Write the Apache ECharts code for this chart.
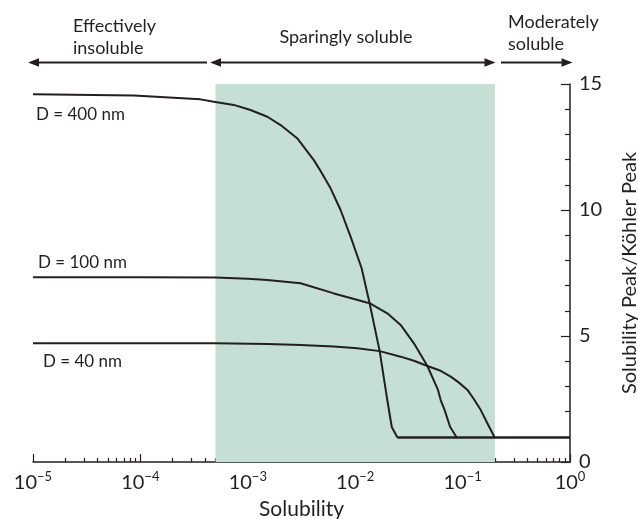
<!DOCTYPE html>
<html><head><meta charset="utf-8">
<script src="https://cdn.jsdelivr.net/npm/echarts@6/dist/echarts.min.js"></script>
<style>html,body{margin:0;padding:0;background:#fff}#c{width:638px;height:519px}</style>
</head><body><div id="c"></div>
<script>
// ---- data ----
const seriesNames = ['D = 400 nm', 'D = 100 nm', 'D = 40 nm'];
const solD400 = [1e-5, 8.66e-5, 3.62e-4, 4.82e-4, 7.41e-4, 1.06e-3, 1.52e-3, 2.02e-3, 2.88e-3, 4.12e-3, 4.76e-3, 5.9e-3, 7.31e-3, 9.06e-3, 0.01148, 0.0136, 0.0169, 0.0199, 0.0219, 0.0247];
const peakD400 = [14.59, 14.54, 14.39, 14.30, 14.17, 13.97, 13.70, 13.37, 12.85, 11.98, 11.55, 10.86, 10.0, 8.94, 7.69, 6.31, 4.40, 2.46, 1.39, 0.97];
const solD100 = [1e-5, 1e-4, 5e-4, 1e-3, 1.52e-3, 3.10e-3, 6.34e-3, 0.0136, 0.0199, 0.0265, 0.0352, 0.0470, 0.059, 0.0625, 0.0681, 0.0764, 0.0881];
const peakD100 = [7.33, 7.33, 7.32, 7.27, 7.22, 7.09, 6.69, 6.30, 5.90, 5.44, 4.71, 3.81, 2.86, 2.46, 2.06, 1.40, 0.97];
const solD40 = [1e-5, 1e-4, 5e-4, 1.52e-3, 3.10e-3, 6.34e-3, 0.01047, 0.0169, 0.0265, 0.0352, 0.047, 0.0625, 0.0775, 0.0925, 0.111, 0.1276, 0.1476, 0.170, 0.199];
const peakD40 = [4.71, 4.71, 4.71, 4.68, 4.64, 4.58, 4.51, 4.40, 4.18, 4.02, 3.81, 3.62, 3.39, 3.15, 2.86, 2.49, 2.06, 1.54, 0.97];
const floorSol = [0.0247, 1];
const floorPeak = [0.97, 0.97];
const shadedRange = [5e-4, 0.2];
const xMin = 1e-5, xMax = 1;
const yTicks = [0, 5, 10, 15];
const xMinorTicks = [];
for (let e = -5; e < 0; e++) for (let k = 2; k <= 9; k++) xMinorTicks.push(k * Math.pow(10, e));
const regionLabels = ['Effectively\ninsoluble', 'Sparingly soluble', 'Moderately\nsoluble'];
const xName = 'Solubility';
const yName = 'Solubility Peak/Köhler Peak';

// ---- chart ----
const FONT = 'Lato';
const INK = '#231f20';
const zip = (a, b) => a.map((v, i) => [v, b[i]]);
const chart = echarts.init(document.getElementById('c'), null, {renderer: 'canvas'});
const mkLine = (name, xs, ys, w) => ({
  name, type: 'line', data: zip(xs, ys), showSymbol: false, symbol: 'none',
  smooth: false, lineStyle: {color: INK, width: w || 2, join: 'round'}, z: 5, silent: true
});
chart.setOption({
  animation: false,
  grid: {left: 33, right: 68, top: 84, bottom: 57, containLabel: false, outerBoundsMode: 'none'},
  xAxis: [{
    type: 'log', logBase: 10, min: xMin, max: xMax, position: 'bottom',
    name: xName, nameLocation: 'middle', nameGap: 37,
    nameTextStyle: {fontFamily: FONT, fontSize: 21, color: INK},
    axisLine: {show: true, lineStyle: {color: INK, width: 1.5}},
    axisTick: {show: true, inside: true, length: 8, lineStyle: {color: INK, width: 1.2}},
    minorTick: {show: false},
    splitLine: {show: false},
    axisLabel: {
      margin: 8,
      formatter: v => { const e = Math.round(Math.log10(v)); return '{b|10}{s|' + (e < 0 ? '\u2212' + (-e) : e) + '}'; },
      rich: {
        b: {fontFamily: FONT, fontSize: 20, lineHeight: 26, color: INK},
        s: {fontFamily: FONT, fontSize: 13, lineHeight: 13, verticalAlign: 'top', color: INK}
      }
    }
  }, {
    type: 'log', logBase: 10, min: xMin, max: xMax, position: 'bottom',
    axisLine: {show: false}, axisLabel: {show: false}, splitLine: {show: false},
    axisTick: {show: true, inside: true, length: 4, customValues: xMinorTicks, lineStyle: {color: INK, width: 1.2}}
  }],
  yAxis: {
    type: 'value', position: 'right', min: 0, max: 15, interval: 5,
    name: yName, nameLocation: 'middle', nameGap: 50, nameRotate: 90,
    nameTextStyle: {fontFamily: FONT, fontSize: 20, color: INK},
    axisLine: {show: true, lineStyle: {color: INK, width: 1.5}},
    axisTick: {show: true, inside: true, length: 9, lineStyle: {color: INK, width: 1.2}},
    minorTick: {show: true, splitNumber: 5, length: 5, lineStyle: {color: INK, width: 1.2}},
    splitLine: {show: false},
    axisLabel: {margin: 9, fontFamily: FONT, fontSize: 20, color: INK,
      formatter: v => yTicks.includes(v) ? String(v) : ''}
  },
  series: [
    {type: 'line', data: [], z: 1, silent: true,
     markArea: {silent: true, itemStyle: {color: '#c5dfd4'}, data: [[{xAxis: shadedRange[0]}, {xAxis: shadedRange[1]}]]}},
    mkLine(seriesNames[0], solD400, peakD400),
    mkLine(seriesNames[1], solD100, peakD100),
    mkLine(seriesNames[2], solD40, peakD40),
    mkLine('floor', floorSol, floorPeak, 2.6)
  ]
});

// annotations
const p400 = chart.convertToPixel({xAxisIndex: 0, yAxisIndex: 0}, [solD400[0], peakD400[0]]);
const p100 = chart.convertToPixel({xAxisIndex: 0, yAxisIndex: 0}, [solD100[0], peakD100[0]]);
const p40 = chart.convertToPixel({xAxisIndex: 0, yAxisIndex: 0}, [solD40[0], peakD40[0]]);
const txt = (x, y, t, align, fs) => ({type: 'text', x, y, silent: true,
  style: {text: t, fontFamily: FONT, fontSize: fs || 18, fill: INK, align: align || 'left', verticalAlign: 'middle', lineHeight: 22}});
const arrowY = 62.5;
const head = (tipX, dir) => ({type: 'polygon', silent: true,
  shape: {points: [[tipX, arrowY], [tipX + dir * 11, arrowY - 4.2], [tipX + dir * 11, arrowY + 4.2]]}, style: {fill: INK}});
const seg = (x1, x2) => ({type: 'line', silent: true, shape: {x1, y1: arrowY, x2, y2: arrowY}, style: {stroke: INK, lineWidth: 2}});
chart.setOption({graphic: [
  txt(p400[0] + 3, p400[1] + 20, seriesNames[0], 'left', 17),
  txt(p100[0] + 5, p100[1] - 15, seriesNames[1], 'left', 17),
  txt(p40[0] + 10, p40[1] + 18, seriesNames[2], 'left', 17),
  txt(73, 37, regionLabels[0]),
  txt(346, 37, regionLabels[1], 'center'),
  txt(508, 33, regionLabels[2]),
  seg(32, 207), head(28, 1),
  seg(214, 492), head(210, 1), head(495.5, -1),
  seg(501, 568), head(572.5, -1)
]});
</script></body></html>
